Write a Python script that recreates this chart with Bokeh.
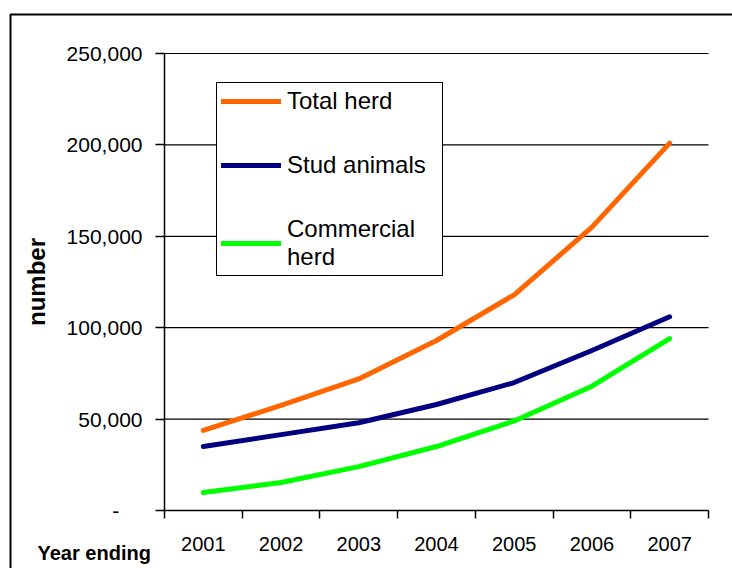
from bokeh.plotting import figure
from bokeh.models import (Range1d, FixedTicker, Legend, LegendItem, BoxAnnotation,
                          Label, NumeralTickFormatter, LinearAxis)
from bokeh.embed import file_html
from bokeh.resources import INLINE

years = ["2001", "2002", "2003", "2004", "2005", "2006", "2007"]
total_herd = [43800, 57500, 72000, 93000, 118000, 155000, 201000]
stud_animals = [35000, 41500, 48000, 58000, 70000, 87500, 106000]
commercial_herd = [9800, 15300, 24000, 35000, 49000, 68000, 94000]
y_ticks = [0, 50000, 100000, 150000, 200000, 250000]

FONT = "Liberation Sans"

# canvas geometry (pixels)
W, H = 732, 568
PLOT_L, PLOT_R, PLOT_T, PLOT_B = 164, 708, 53, 510

n = len(years)
y_max = y_ticks[-1]
px_x = (PLOT_R - PLOT_L) / n
px_y = (PLOT_B - PLOT_T) / y_max
x_start = -PLOT_L / px_x
x_end = n + (W - PLOT_R) / px_x
y_start = -(H - PLOT_B) / px_y
y_end = y_max + PLOT_T / px_y

xs = [i + 0.5 for i in range(n)]

p = figure(width=W, height=H, output_backend="svg", toolbar_location=None,
           x_range=Range1d(x_start, x_end), y_range=Range1d(y_start, y_end),
           x_axis_type=None, y_axis_type=None,
           min_border_left=0, min_border_right=0, min_border_top=0,
           min_border_bottom=0)
p.outline_line_color = None
p.background_fill_color = "white"
p.border_fill_color = "white"
p.grid.visible = False

# outer chart border
p.add_layout(BoxAnnotation(left=10, right=W + 50, top=14, bottom=H + 50,
                           left_units="canvas", right_units="canvas",
                           top_units="canvas", bottom_units="canvas",
                           fill_alpha=0, line_color="black", line_alpha=1,
                           line_width=2))

# horizontal gridlines across the plot area
gl = y_ticks[1:]
p.segment(x0=[0] * len(gl), x1=[n] * len(gl), y0=gl, y1=gl,
          line_color="black", line_width=1.2)

# x axis: ticks at category boundaries, labels at centres
xa = LinearAxis(fixed_location=0, bounds=(0, n))
xa.ticker = FixedTicker(ticks=xs, minor_ticks=list(range(n + 1)))
xa.major_label_overrides = {x: y for x, y in zip(xs, years)}
xa.major_tick_out = 0
xa.major_tick_in = 0
xa.minor_tick_out = 8
xa.minor_tick_in = 0
xa.minor_tick_line_color = "black"
xa.minor_tick_line_width = 1.5
xa.axis_line_color = "black"
xa.axis_line_width = 1.5
xa.major_label_text_font = FONT
xa.major_label_text_font_size = "20px"
xa.major_label_text_color = "black"
xa.major_label_standoff = 18
p.add_layout(xa, "below")

# y axis
ya = LinearAxis(fixed_location=0, bounds=(0, y_max))
ya.ticker = FixedTicker(ticks=y_ticks, minor_ticks=[])
ya.formatter = NumeralTickFormatter(format="0,0")
ya.major_label_overrides = {0: "-\u00a0\u00a0\u00a0\u00a0"}
ya.major_tick_out = 9
ya.major_tick_in = 0
ya.major_tick_line_color = "black"
ya.major_tick_line_width = 1.5
ya.axis_line_color = "black"
ya.axis_line_width = 1.5
ya.major_label_text_font = FONT
ya.major_label_text_font_size = "21px"
ya.major_label_text_color = "black"
ya.major_label_standoff = 13
ya.axis_label = "number"
ya.axis_label_text_font = FONT
ya.axis_label_text_font_size = "24px"
ya.axis_label_text_font_style = "bold"
ya.axis_label_text_color = "black"
ya.axis_label_standoff = 14
p.add_layout(ya, "left")

r1 = p.line(xs, total_herd, line_color="#FF6600", line_width=5,
            line_cap="round", line_join="round")
r2 = p.line(xs, stud_animals, line_color="#000080", line_width=5,
            line_cap="round", line_join="round")
r3 = p.line(xs, commercial_herd, line_color="#00FF00", line_width=5,
            line_cap="round", line_join="round")

legend = Legend(items=[LegendItem(label="Total herd", renderers=[r1]),
                       LegendItem(label="Stud animals", renderers=[r2]),
                       LegendItem(label="Commercial\nherd", renderers=[r3])],
                location=(216, H - 276), margin=0, padding=4, spacing=36,
                glyph_width=60, glyph_height=24, label_height=24,
                label_width=151, label_standoff=6,
                label_text_font=FONT, label_text_font_size="24px",
                label_text_color="black",
                border_line_color="black", border_line_alpha=1,
                border_line_width=1.5,
                background_fill_color="white", background_fill_alpha=1)
p.add_layout(legend, "center")

p.add_layout(Label(x=37, y=H - 552, x_units="screen", y_units="screen",
                   text="Year ending", text_font=FONT, text_font_size="20px",
                   text_font_style="bold", text_color="black",
                   text_baseline="middle"))

open("out.html", "w").write(file_html(p, INLINE))
